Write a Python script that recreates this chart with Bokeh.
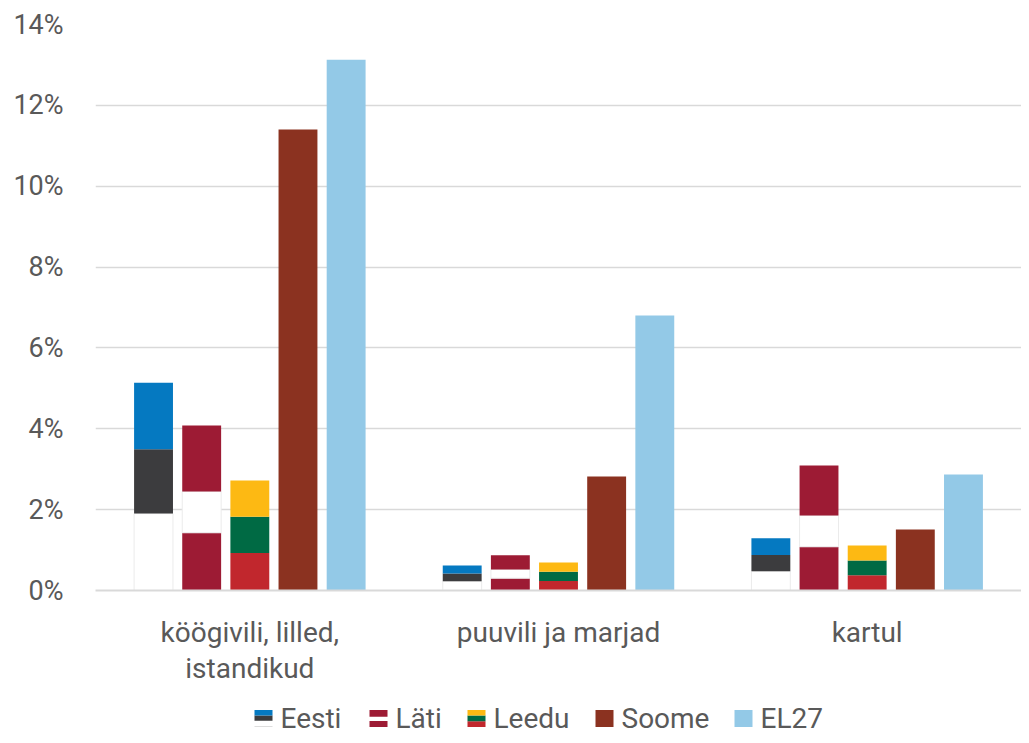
from bokeh.plotting import figure
from bokeh.models import FactorRange, FixedTicker, PrintfTickFormatter, Range1d, ColumnDataSource
from bokeh.transform import dodge
from bokeh.layouts import column
from bokeh.embed import file_html
from bokeh.resources import INLINE
from bokeh.core.properties import value

# ---- data (percent) ----
categories = ["köögivili, lilled,\nistandikud", "puuvili ja marjad", "kartul"]
eesti = [5.14, 0.62, 1.29]
lati = [4.08, 0.87, 3.09]
leedu = [2.72, 0.69, 1.11]
soome = [11.40, 2.82, 1.51]
el27 = [13.13, 6.80, 2.87]
y_ticks = [0, 2, 4, 6, 8, 10, 12, 14]
series_names = ["Eesti", "Läti", "Leedu", "Soome", "EL27"]

FONT = "Roboto"
TXT = "#595959"

# flag bands (bottom -> top): (start fraction, end fraction, colour)
flag_eesti = [(0.0, 0.37, "#ffffff"), (0.37, 0.68, "#3c3c3e"), (0.68, 1.0, "#0579c1")]
flag_lati = [(0.0, 0.35, "#9d1b34"), (0.35, 0.60, "#ffffff"), (0.60, 1.0, "#9d1b34")]
flag_leedu = [(0.0, 0.34, "#c1272d"), (0.34, 0.67, "#006a44"), (0.67, 1.0, "#fdb913")]
soome_color = "#8b3220"
el27_color = "#93c9e7"

offsets = [-0.312, -0.156, 0.0, 0.156, 0.312]
bar_w = 0.126

p = figure(x_range=FactorRange(*categories, range_padding=0), y_range=Range1d(0, 14),
           width=1021, height=697, output_backend="svg", toolbar_location=None,
           min_border_left=95, min_border_right=0, min_border_top=24, min_border_bottom=107)
p.outline_line_color = None
p.background_fill_color = "white"
p.border_fill_color = "white"

def add_flag(vals, bands, off):
    for f0, f1, col in bands:
        src = ColumnDataSource(dict(cat=categories,
                                    bottom=[v * f0 for v in vals],
                                    top=[v * f1 for v in vals]))
        edge = "#ebebeb" if col == "#ffffff" else None
        p.vbar(x=dodge("cat", off, range=p.x_range), bottom="bottom", top="top",
               width=bar_w, source=src, fill_color=col, line_color=edge, line_width=1)

add_flag(eesti, flag_eesti, offsets[0])
add_flag(lati, flag_lati, offsets[1])
add_flag(leedu, flag_leedu, offsets[2])
for vals, col, off in [(soome, soome_color, offsets[3]), (el27, el27_color, offsets[4])]:
    src = ColumnDataSource(dict(cat=categories, top=vals))
    p.vbar(x=dodge("cat", off, range=p.x_range), top="top", bottom=0,
           width=bar_w, source=src, fill_color=col, line_color=None)

p.xgrid.grid_line_color = None
p.ygrid.grid_line_color = "#d9d9d9"
p.ygrid.grid_line_width = 1.5
p.ygrid.ticker = FixedTicker(ticks=y_ticks)

p.yaxis.ticker = FixedTicker(ticks=y_ticks)
p.yaxis.formatter = PrintfTickFormatter(format="%d%%")
p.yaxis.axis_line_color = None
p.yaxis.major_tick_line_color = None
p.yaxis.minor_tick_line_color = None
p.yaxis.major_label_text_font = FONT
p.yaxis.major_label_text_font_size = "27px"
p.yaxis.major_label_text_color = TXT
p.yaxis.major_label_standoff = 26

p.xaxis.axis_line_color = "#d9d9d9"
p.xaxis.axis_line_width = 2
p.xaxis.major_tick_line_color = None
p.xaxis.minor_tick_line_color = None
p.xaxis.major_label_text_font = FONT
p.xaxis.major_label_text_font_size = "28px"
p.xaxis.major_label_text_color = TXT
p.xaxis.major_label_text_line_height = 1.1
p.xaxis.major_label_standoff = 19

# ---- legend strip (custom, to show flag swatches) ----
# frame spans pixel 95..1021 so data x equals pixel x
lg = figure(x_range=Range1d(95, 1021), y_range=Range1d(0, 38), width=1021, height=38,
            output_backend="svg", toolbar_location=None,
            min_border_left=95, min_border_right=0, min_border_top=0, min_border_bottom=0)
lg.outline_line_color = None
lg.axis.visible = False
lg.grid.visible = False

sw_x = [254, 369, 467, 595, 734]
sw_w = 18
yc = 17
sw_y0, sw_y1 = yc - 8.5, yc + 8.5
swatch_bands = [flag_eesti, flag_lati, flag_leedu,
                [(0.0, 1.0, soome_color)], [(0.0, 1.0, el27_color)]]
for x0, bands in zip(sw_x, swatch_bands):
    for f0, f1, col in bands:
        lg.quad(left=x0, right=x0 + sw_w,
                bottom=sw_y0 + (sw_y1 - sw_y0) * f0, top=sw_y0 + (sw_y1 - sw_y0) * f1,
                fill_color=col, line_color=None)
lg.segment(x0=sw_x[0], y0=sw_y0 + 0.5, x1=sw_x[0] + sw_w, y1=sw_y0 + 0.5,
           line_color="#dddddd", line_width=1)

lg.text(x=[x + sw_w + 8 for x in sw_x], y=[yc] * 5, text=series_names,
        text_font=value(FONT), text_font_size="28px", text_color=TXT,
        text_baseline="middle", text_align="left")

layout = column(p, lg, spacing=0)
open("out.html", "w").write(file_html(layout, INLINE))
